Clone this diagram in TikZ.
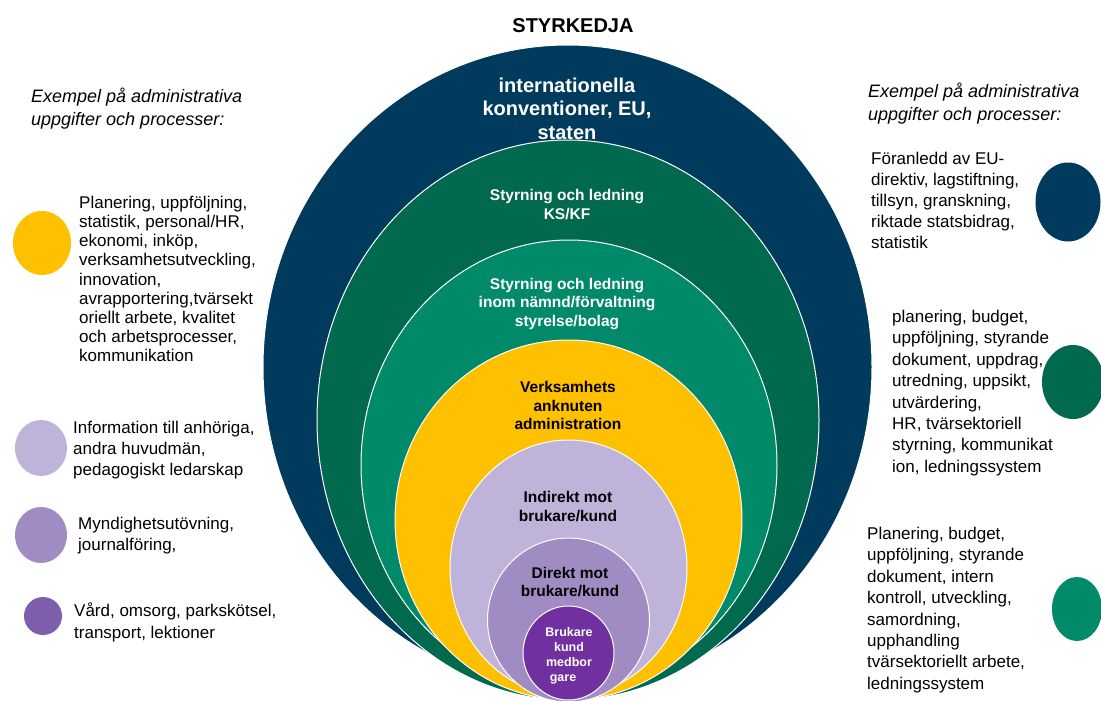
\documentclass[tikz,border=0pt]{standalone}
\usepackage{fontspec}
\setmainfont{Liberation Sans}
\definecolor{navy}{HTML}{003A5D}
\definecolor{dkgreen}{HTML}{00694E}
\definecolor{teal}{HTML}{008A69}
\definecolor{gold}{HTML}{FFC000}
\definecolor{lav}{HTML}{C0B3D9}
\definecolor{medpur}{HTML}{A08CC3}
\definecolor{dkpur}{HTML}{7030A0}
\definecolor{vpur}{HTML}{7D5FAE}
\begin{document}
\begin{tikzpicture}[x=1pt,y=-1pt,
  ring/.style={draw=white, line width=1pt},
  lblbig/.style={font=\bfseries\fontsize{20}{23.5}\selectfont, align=center, inner sep=0pt, text=white},
  lbl/.style={font=\bfseries\fontsize{15.5}{18.5}\selectfont, align=center, inner sep=0pt},
  lblsmall/.style={font=\bfseries\fontsize{12.5}{15}\selectfont, align=center, inner sep=0pt, text=white},
  body/.style={align=left, anchor=west, inner sep=0pt},
  hdr/.style={font=\itshape\fontsize{18}{23}\selectfont, align=left, anchor=west, inner sep=0pt}]
\useasboundingbox (0,0) rectangle (1101,701);
\fill[white] (0,0) rectangle (1101,701);
\begin{scope}
\clip (0,0) rectangle (1101,701);
\filldraw[ring, fill=navy]    (567.5,367) ellipse [x radius=304.5pt, y radius=322pt];
\filldraw[ring, fill=dkgreen] (568,420)   ellipse [x radius=251pt, y radius=280pt];
\filldraw[ring, fill=teal]    (569,465)   ellipse [x radius=208pt, y radius=225pt];
\filldraw[ring, fill=gold]    (568.5,520) ellipse [x radius=173.5pt, y radius=180pt];
\filldraw[ring, fill=lav]     (568.5,568) ellipse [x radius=118.5pt, y radius=128pt];
\filldraw[ring, fill=medpur]  (568.5,620) ellipse [x radius=81pt, y radius=82pt];
\filldraw[ring, fill=dkpur]   (568.5,653) ellipse [x radius=45.5pt, y radius=47pt];
\end{scope}

% small legend dots
\fill[gold]   (42,243)  ellipse [x radius=29pt, y radius=32pt];
\fill[lav]    (41,448)  ellipse [x radius=26pt, y radius=28pt];
\fill[medpur] (41,535)  ellipse [x radius=26pt, y radius=28pt];
\fill[vpur]   (43,616)  ellipse [x radius=19pt, y radius=19pt];
\fill[navy]   (1068,202) ellipse [x radius=32.5pt, y radius=39.5pt];
\fill[dkgreen](1073,382) ellipse [x radius=31pt, y radius=37pt];
\fill[teal]   (1077,609) ellipse [x radius=25pt, y radius=32pt];

% title and ring labels
\node[font=\bfseries\fontsize{20}{24}\selectfont, inner sep=0pt] (title) at (573,26) {STYRKEDJA};
\node[lblbig] (l1) at (567,108.5) {internationella\\konventioner, EU,\\staten};
\node[lbl, text=white] (l2) at (567,204.5) {Styrning och ledning\\KS/KF};
\node[lbl, text=white] (l3) at (567,304) {Styrning och ledning\\inom nämnd/förvaltning\\styrelse/bolag};
\node[lbl, text=black] (l4) at (568,405.5) {Verksamhets\\anknuten\\administration};
\node[lbl, text=black] (l5) at (568,506.5) {Indirekt mot\\brukare/kund};
\node[lbl, text=black] (l6) at (570,582) {Direkt mot\\brukare/kund};
\node[lblsmall] (l7) at (569,655.5) {Brukare\\kund\\medbor\\gare\hspace*{12pt}};

% left side
\node[hdr] (lh) at (31,108.5) {Exempel på administrativa\\uppgifter och processer:};
\node[body, font=\fontsize{17}{19.1}\selectfont] (lt1) at (79,279) {Planering, uppföljning,\\statistik, personal/HR,\\ekonomi, inköp,\\verksamhetsutveckling,\\innovation,\\avrapportering,tvärsekt\\oriellt arbete, kvalitet\\och arbetsprocesser,\\kommunikation};
\node[body, font=\fontsize{17}{21}\selectfont] (lt2) at (73,450) {Information till anhöriga,\\andra huvudmän,\\pedagogiskt ledarskap};
\node[body, font=\fontsize{17}{21}\selectfont] (lt3) at (78,536) {Myndighetsutövning,\\journalföring,};
\node[body, font=\fontsize{17}{22}\selectfont] (lt4) at (74,622) {Vård, omsorg, parkskötsel,\\transport, lektioner};

% right side
\node[hdr] (rh) at (868,103.5) {Exempel på administrativa\\uppgifter och processer:};
\node[body, font=\fontsize{17}{21}\selectfont] (rt1) at (871,200) {Föranledd av EU-\\direktiv, lagstiftning,\\tillsyn, granskning,\\riktade statsbidrag,\\statistik};
\node[body, font=\fontsize{17}{21.4}\selectfont] (rt2) at (892,393) {planering, budget,\\uppföljning, styrande\\dokument, uppdrag,\\utredning, uppsikt,\\utvärdering,\\HR, tvärsektoriell\\styrning, kommunikat\\ion, ledningssystem};
\node[body, font=\fontsize{17}{21.4}\selectfont] (rt3) at (867,610) {Planering, budget,\\uppföljning, styrande\\dokument, intern\\kontroll, utveckling,\\samordning,\\upphandling\\tvärsektoriellt arbete,\\ledningssystem};
\end{tikzpicture}
\end{document}
